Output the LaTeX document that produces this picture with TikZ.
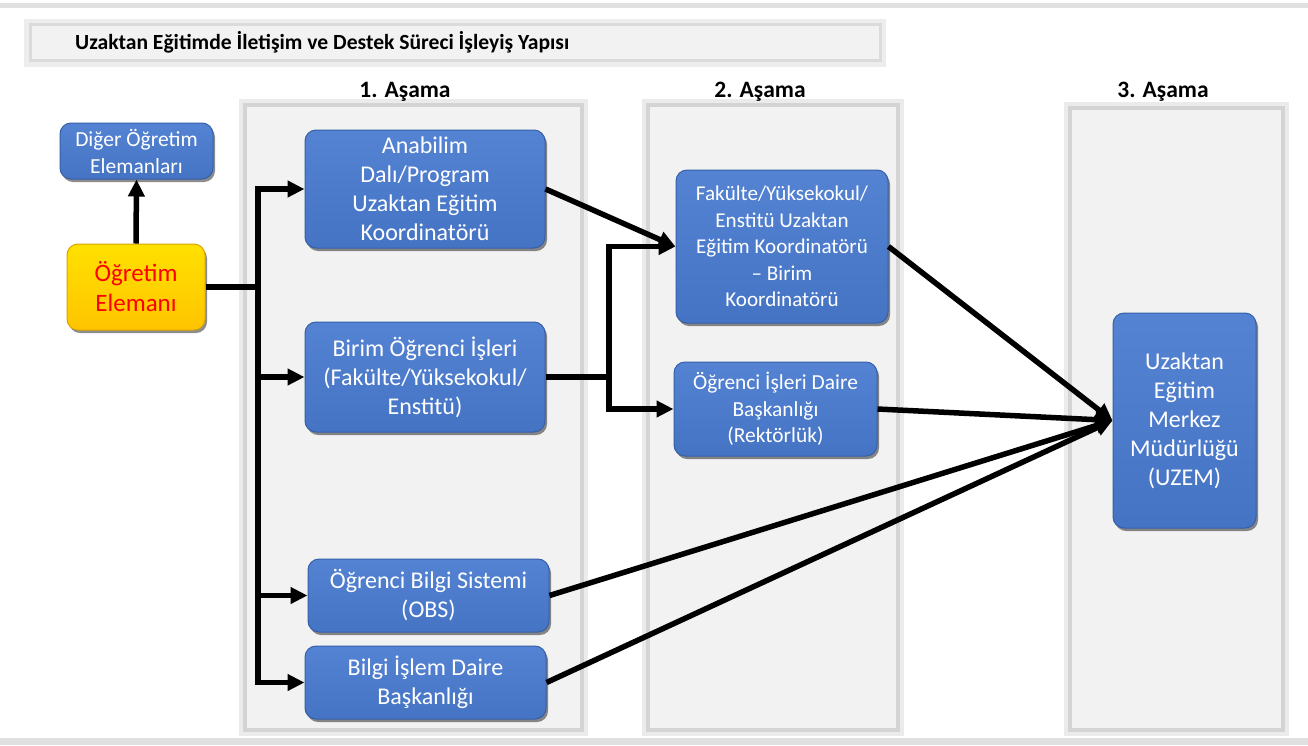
\documentclass[tikz,border=0pt]{standalone}
\usepackage{fontspec}
\setmainfont{Carlito}
\usetikzlibrary{shadows,arrows.meta}
\definecolor{boxblue}{HTML}{4A7BD0}
\definecolor{boxedge}{HTML}{3560A8}
\definecolor{panelfill}{HTML}{F2F2F2}
\definecolor{paneledge}{HTML}{D4D4D4}
\definecolor{yelfill}{HTML}{FFCC00}
\definecolor{yeledge}{HTML}{D9A400}
\tikzset{
  bluebox/.style={rectangle, rounded corners=11pt, top color=boxblue!94!white, bottom color=boxblue!94!black,
    draw=boxedge, line width=1pt,
    text=white, align=center, inner sep=0pt, font=\fontsize{24}{29}\selectfont,
    drop shadow={shadow xshift=2pt, shadow yshift=-3pt, opacity=0.45, fill=black}},
  yelbox/.style={rectangle, rounded corners=11pt, top color=yelfill!60!yellow, bottom color=yelfill!90!orange,
    draw=yeledge, line width=1pt, text=red, align=center, inner sep=0pt,
    font=\fontsize{25}{30}\selectfont,
    drop shadow={shadow xshift=2pt, shadow yshift=-3pt, opacity=0.45, fill=black}},
  panel/.style={rectangle, fill=panelfill, draw=paneledge, line width=4pt, inner sep=0pt},
  halo/.style={rectangle, draw=black!8, line width=10pt, inner sep=0pt},
  stagelabel/.style={font=\bfseries\fontsize{23.5}{28}\selectfont, inner sep=0pt},
  arr/.style={line width=5.5pt, line join=miter, -{Triangle[length=17pt,width=16pt]}}
}
\begin{document}
\begin{tikzpicture}[x=1pt,y=-1pt]
\useasboundingbox (0,0) rectangle (1308,745);
\fill[white] (0,0) rectangle (1308,745);
% top and bottom rules
\fill[black!12] (0,3) rectangle (1308,8);
\fill[black!12] (0,738) rectangle (1308,745);
% title box
\node[halo, draw=black!7, minimum width=852pt, minimum height=38pt] (titlehalo) at (455,42.5) {};
\node[panel, draw=black!14, line width=3pt, minimum width=850pt, minimum height=36pt] (titlebox) at (455,42.5) {};
\node[anchor=west, font=\bfseries\fontsize{21.6}{25}\selectfont, inner sep=0pt] (title) at (75,42.5)
  {Uzaktan Eğitimde İletişim ve Destek Süreci İşleyiş Yapısı};
% stage panels
\node[halo, minimum width=339pt, minimum height=627pt] (p1h) at (413.5,417.5) {};
\node[panel, minimum width=337pt, minimum height=625pt] (p1) at (413.5,417.5) {};
\node[halo, minimum width=252pt, minimum height=627pt] (p2h) at (773,417.5) {};
\node[panel, minimum width=250pt, minimum height=625pt] (p2) at (773,417.5) {};
\node[halo, minimum width=215pt, minimum height=624pt] (p3h) at (1176.5,419) {};
\node[panel, minimum width=213pt, minimum height=622pt] (p3) at (1176.5,419) {};
\node[stagelabel] (s1) at (405,92) {1. Aşama};
\node[stagelabel] (s2) at (760,92) {2. Aşama};
\node[stagelabel] (s3) at (1163,92) {3. Aşama};
% boxes
\node[bluebox, font=\fontsize{21.5}{27}\selectfont, minimum width=153pt, minimum height=56pt] (diger) at (136.5,151) {Diğer Öğretim\\Elemanları};
\node[yelbox, minimum width=138pt, minimum height=86pt] (ogr) at (136,287) {Öğretim\\Elemanı};
\node[bluebox, minimum width=240pt, minimum height=118pt] (ana) at (425,189) {Anabilim\\Dalı/Program\\Uzaktan Eğitim\\Koordinatörü};
\node[bluebox, minimum width=240pt, minimum height=110pt] (birim) at (425,377) {Birim Öğrenci İşleri\\(Fakülte/Yüksekokul/\\Enstitü)};
\node[bluebox, minimum width=241pt, minimum height=73pt] (obs) at (428.5,595.5) {Öğrenci Bilgi Sistemi\\(OBS)};
\node[bluebox, minimum width=241pt, minimum height=73pt] (bidb) at (425.5,682.5) {Bilgi İşlem Daire\\Başkanlığı};
\node[bluebox, minimum width=212pt, minimum height=153pt, font=\fontsize{21.1}{26.5}\selectfont] (fak) at (782,246.5) {Fakülte/Yüksekokul/\\Enstitü Uzaktan\\Eğitim Koordinatörü\\– Birim\\Koordinatörü};
\node[bluebox, minimum width=203pt, minimum height=94pt, font=\fontsize{21.4}{26.5}\selectfont] (oidb) at (775.5,409) {Öğrenci İşleri Daire\\Başkanlığı\\(Rektörlük)};
\node[bluebox, minimum width=143pt, minimum height=215pt] (uzem) at (1184.5,420.5) {Uzaktan\\Eğitim\\Merkez\\Müdürlüğü\\(UZEM)};
% bus coordinates
\coordinate (busA) at (258,0);
\coordinate (busB) at (609,0);
% connectors
\draw[arr] (ogr.north) -- (diger.south);
\draw[arr] (ogr.east) -- (ogr.east -| busA) |- (ana.west);
\draw[arr] (ogr.east) -- (ogr.east -| busA) |- (birim.west);
\draw[arr] (ogr.east) -- (ogr.east -| busA) |- (obs.west);
\draw[arr] (ogr.east) -- (ogr.east -| busA) |- (bidb.west);
\draw[arr] (ana.east) -- (fak.west);
\draw[arr] (birim.east) -- (birim.east -| busB) |- (fak.west);
\draw[arr] (birim.east) -- (birim.east -| busB) |- (oidb.west);
\draw[arr] (fak.east) -- (uzem.west);
\draw[arr] (oidb.east) -- (uzem.west);
\draw[arr] (obs.east) -- (uzem.west);
\draw[arr] (bidb.east) -- (uzem.west);
\end{tikzpicture}
\end{document}
